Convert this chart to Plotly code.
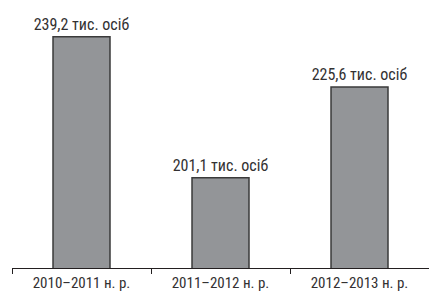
import plotly.graph_objects as go

categories = ["2010–2011 н. р.", "2011–2012 н. р.", "2012–2013 н. р."]
values = [239.2, 201.1, 225.6]
value_labels = ["239,2 тис. осіб", "201,1 тис. осіб", "225,6 тис. осіб"]

FONT = "Liberation Sans Narrow, Roboto Condensed, Roboto, Liberation Sans"
TEXT_COLOR = "#333132"

fig = go.Figure(go.Bar(
    x=categories,
    y=values,
    text=value_labels,
    textposition="outside",
    constraintext="none",
    cliponaxis=False,
    textfont=dict(size=16, color=TEXT_COLOR, family=FONT),
    marker=dict(color="#939598", line=dict(color="#3a3a3a", width=1.5)),
))

fig.update_layout(
    width=429, height=292,
    margin=dict(l=12, r=0, t=0, b=24, autoexpand=False),
    paper_bgcolor="white", plot_bgcolor="white",
    bargap=0.59,
    showlegend=False,
    xaxis=dict(
        range=[-0.5, 2.5],
        showline=True, linecolor="#231f20", linewidth=1,
        ticks="outside", tickson="boundaries", ticklen=5, tickcolor="#231f20",
        ticklabelstandoff=1,
        tickfont=dict(size=15, color=TEXT_COLOR, family=FONT),
        showgrid=False, zeroline=False, automargin=False,
    ),
    yaxis=dict(
        range=[176.7, 249.1],
        visible=False, showgrid=False, zeroline=False,
    ),
)

fig.write_html(
    "out.html",
    config={"displayModeBar": False},
    post_script="document.body.style.margin='0';document.body.style.overflow='hidden';",
)
